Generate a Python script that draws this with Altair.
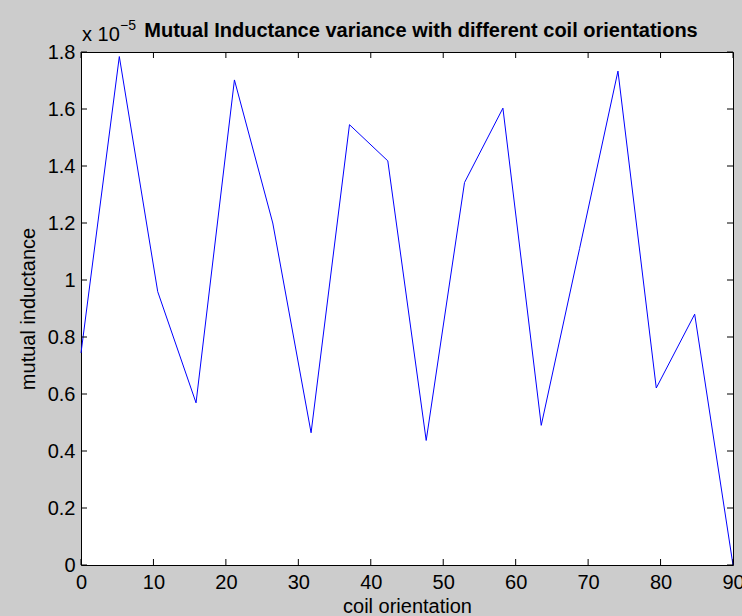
import altair as alt
import pandas as pd

# coil orientation (degrees)
orientation = [0, 5.29, 10.59, 15.88, 21.18, 26.47, 31.76, 37.06, 42.35,
               47.65, 52.94, 58.24, 63.53, 68.82, 74.12, 79.41, 84.71, 90]
# mutual inductance, in units of 1e-5
inductance_e5 = [0.744, 1.784, 0.959, 0.569, 1.702, 1.200, 0.464, 1.545, 1.418,
                 0.437, 1.342, 1.603, 0.490, 1.110, 1.733, 0.621, 0.880, 0.0]
x_ticks = [0, 10, 20, 30, 40, 50, 60, 70, 80, 90]
y_ticks_e5 = [0, 0.2, 0.4, 0.6, 0.8, 1.0, 1.2, 1.4, 1.6, 1.8]

title_text = "Mutual Inductance variance with different coil orientations"
x_title = "coil orientation"
y_title = "mutual inductance"

W, H = 652, 513
FONT = "Liberation Sans"
TL = 6  # inward tick length

df = pd.DataFrame({"x": orientation, "y": [v * 1e-5 for v in inductance_e5]})
xt = pd.DataFrame({"x": x_ticks})
yt = pd.DataFrame({"y": [v * 1e-5 for v in y_ticks_e5]})

xscale = alt.Scale(domain=[0, 90], nice=False, zero=False)
yscale = alt.Scale(domain=[0, 1.8e-5], nice=False, zero=False)

xaxis = alt.Axis(values=x_ticks, ticks=False, domain=False, grid=False,
                 labelPadding=7, title=x_title, titlePadding=4,
                 labelFlush=False, labelOverlap=False)
yaxis = alt.Axis(values=[v * 1e-5 for v in y_ticks_e5], ticks=False,
                 domain=False, grid=False, labelPadding=6,
                 labelExpr="format(datum.value * 1e5, '.1~f')",
                 title=y_title, titlePadding=9, labelFlush=False,
                 labelOverlap=False)

X = alt.X("x:Q", scale=xscale, axis=xaxis)
Y = alt.Y("y:Q", scale=yscale, axis=yaxis)

line = alt.Chart(df).mark_line(color="#0000ff", strokeWidth=1).encode(x=X, y=Y)

ytick_l = alt.Chart(yt).mark_rule(color="black", strokeWidth=1).encode(
    y=Y, x=alt.value(0), x2=alt.value(TL))
ytick_r = alt.Chart(yt).mark_rule(color="black", strokeWidth=1).encode(
    y=Y, x=alt.value(W - TL), x2=alt.value(W))
xtick_b = alt.Chart(xt).mark_rule(color="black", strokeWidth=1).encode(
    x=X, y=alt.value(H), y2=alt.value(H - TL))
xtick_t = alt.Chart(xt).mark_rule(color="black", strokeWidth=1).encode(
    x=X, y=alt.value(0), y2=alt.value(TL))

title = alt.Chart(pd.DataFrame({"t": [title_text]})).mark_text(
    font=FONT, fontSize=20, fontWeight="bold", align="center", baseline="alphabetic",
    color="black").encode(text="t:N", x=alt.value(340), y=alt.value(-15))
mult = alt.Chart(pd.DataFrame({"t": ["x 10"]})).mark_text(
    font=FONT, fontSize=20, align="left", baseline="alphabetic",
    color="black").encode(text="t:N", x=alt.value(1), y=alt.value(-11))
expo = alt.Chart(pd.DataFrame({"t": ["\u22125"]})).mark_text(
    font=FONT, fontSize=14, align="left", baseline="alphabetic",
    color="black").encode(text="t:N", x=alt.value(39), y=alt.value(-22))

chart = alt.layer(line, ytick_l, ytick_r, xtick_b, xtick_t, title, mult, expo).properties(
    width=W, height=H,
    autosize=alt.AutoSizeParams(type="none"),
    padding={"left": 81, "top": 52, "right": 9, "bottom": 51},
    background="#cccccc",
).configure_view(fill="white", stroke="black", strokeWidth=1).configure_axis(
    labelFont=FONT, labelFontSize=20, labelColor="black",
    titleFont=FONT, titleFontSize=20, titleFontWeight="normal", titleColor="black",
)

chart.save("out.html", embed_options={"renderer": "svg", "actions": False})
